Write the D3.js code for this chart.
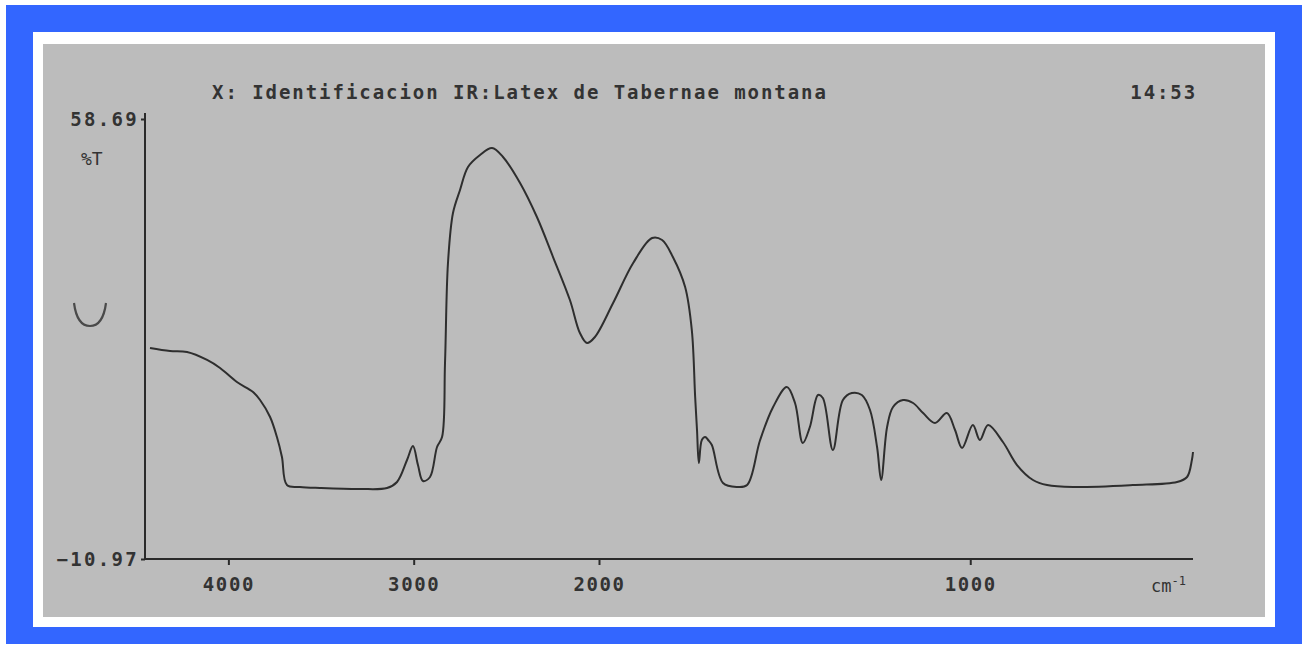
<!DOCTYPE html>
<html>
<head>
<meta charset="utf-8">
<script src="https://cdn.jsdelivr.net/npm/d3@7"></script>
<style>
  html, body { margin: 0; padding: 0; background: #ffffff; }
  svg { display: block; }
  .mono { font-family: "DejaVu Sans Mono", "Liberation Mono", monospace; fill: #333333; font-weight: bold; }
  .axis path, .axis line { stroke: #2a2a2a; stroke-width: 2; }
  .axis text { font-family: "DejaVu Sans Mono", "Liberation Mono", monospace; font-weight: bold; font-size: 19px; fill: #333333; letter-spacing: 1.6px; }
</style>
</head>
<body>
<svg id="chart" width="1308" height="649"></svg>
<script>
// Spectrum: wavenumber (cm-1) and transmittance (%T)
const wavenumbers = [
  4423, 4315, 4223, 4115, 4045, 3954, 3867, 3829, 3775, 3738,
  3711, 3684, 3614, 3506, 3290, 3144, 3090, 3036, 3004, 2977,
  2950, 2912, 2874, 2847, 2831, 2815, 2788, 2750, 2707, 2642,
  2577, 2518, 2426, 2335, 2248, 2157, 2103, 2065, 2022, 1962,
  1908, 1857, 1830, 1801, 1768, 1750, 1741, 1736, 1731, 1723,
  1714, 1706, 1696, 1666, 1628, 1601, 1566, 1531, 1494, 1472,
  1451, 1432, 1410, 1397, 1370, 1343, 1319, 1292, 1270, 1251,
  1240, 1224, 1208, 1181, 1154, 1127, 1095, 1063, 1041, 1022,
  993, 974, 952, 912, 874, 831, 793, 723, 562, 443,
  416, 403, 400
];
const transmittance = [
  22.44, 21.96, 21.80, 20.54, 19.27, 17.05, 15.47, 14.20, 11.51, 8.34,
  5.18, 0.74, 0.43, 0.27, 0.11, 0.27, 1.22, 4.70, 6.92, 3.91,
  1.38, 2.01, 6.76, 8.34, 20.06, 35.89, 43.81, 47.45, 51.09, 52.99,
  54.10, 52.67, 48.56, 43.17, 36.84, 30.03, 24.81, 23.23, 24.18, 29.56,
  35.89, 39.85, 39.53, 36.84, 32.09, 25.28, 14.68, 9.45, 4.23, 7.87,
  8.34, 7.87, 7.08, 1.06, 0.43, 0.74, 7.87, 13.09, 16.26, 13.73,
  7.39, 9.93, 14.99, 14.52, 6.29, 14.20, 15.31, 14.99, 12.62, 6.76,
  1.54, 9.93, 13.09, 14.20, 13.73, 12.14, 10.56, 12.14, 9.45, 6.60,
  10.24, 7.87, 10.24, 7.55, 3.91, 1.54, 0.74, 0.43, 0.74, 1.22,
  2.01, 4.70, 5.97
];

// Instrument axis: range ends and the 2000 cm-1 scale change
const xDomain = [4450, 2000, 400];
const xTicks = [4000, 3000, 2000, 1000];
const yDomain = [-10.97, 58.69];
const yTicks = [58.69, -10.97];

const titleText = "X: Identificacion IR:Latex de Tabernae montana";
const timeText = "14:53";

const svg = d3.select("#chart");

// frame: blue border, white band, gray paper
svg.append("rect").attr("x", 6).attr("y", 5).attr("width", 1296).attr("height", 639).attr("fill", "#3366ff");
svg.append("rect").attr("x", 33).attr("y", 32).attr("width", 1242).attr("height", 595).attr("fill", "#ffffff");
svg.append("rect").attr("x", 43).attr("y", 44).attr("width", 1222).attr("height", 573).attr("fill", "#bcbcbc");

const plotLeft = 145, plotRight = 1193, plotTop = 119, plotBottom = 559;

const x = d3.scaleLinear().domain(xDomain).range([plotLeft, 599, plotRight]);
const y = d3.scaleLinear().domain(yDomain).range([plotBottom, plotTop]);

// x axis
const xAxis = svg.append("g")
  .attr("class", "axis")
  .attr("transform", `translate(0,${plotBottom})`)
  .call(d3.axisBottom(x).tickValues(xTicks).tickSize(6).tickSizeOuter(0).tickPadding(13).tickFormat(d => d));
xAxis.select(".domain").attr("d", `M${plotLeft},0H${plotRight}`);

// y axis
const yAxis = svg.append("g")
  .attr("class", "axis")
  .attr("transform", `translate(${plotLeft},0)`)
  .call(d3.axisLeft(y).tickValues(yTicks).tickSize(4).tickSizeOuter(0).tickPadding(2).tickFormat(d3.format(".2f")));
yAxis.select(".domain").attr("d", `M0,${plotTop - 6}V${plotBottom}`);
yAxis.selectAll("text").attr("dy", "0.36em").style("letter-spacing", "2.3px");

// labels
svg.append("text").attr("class", "mono").attr("x", 212).attr("y", 99)
  .style("font-size", "19px").style("letter-spacing", "1.95px").text(titleText);
svg.append("text").attr("class", "mono").attr("x", 1197).attr("y", 99)
  .attr("text-anchor", "end").style("font-size", "19px").style("letter-spacing", "1.9px").text(timeText);
svg.append("text").attr("class", "mono").attr("x", 81).attr("y", 165)
  .style("font-size", "18px").style("font-weight", "normal").text("%T");

const unit = svg.append("text").attr("class", "mono").attr("x", 1151).attr("y", 592)
  .style("font-size", "17px").style("font-weight", "normal");
unit.append("tspan").text("cm");
unit.append("tspan").attr("dy", -7).style("font-size", "12px").text("-1");

// stray mark at the left margin
svg.append("path")
  .attr("d", "M74,303 Q77,326 90,326 Q103,326 106,303")
  .attr("fill", "none").attr("stroke", "#4a4a4a").attr("stroke-width", 2.2);

// spectrum
const points = wavenumbers.map((w, i) => [w, transmittance[i]]);
const line = d3.line()
  .x(d => x(d[0]))
  .y(d => y(d[1]))
  .curve(d3.curveCatmullRom.alpha(0.5));

svg.append("path")
  .datum(points)
  .attr("d", line)
  .attr("fill", "none")
  .attr("stroke", "#2e2e2e")
  .attr("stroke-width", 2)
  .attr("stroke-linejoin", "round");
</script>
</body>
</html>
